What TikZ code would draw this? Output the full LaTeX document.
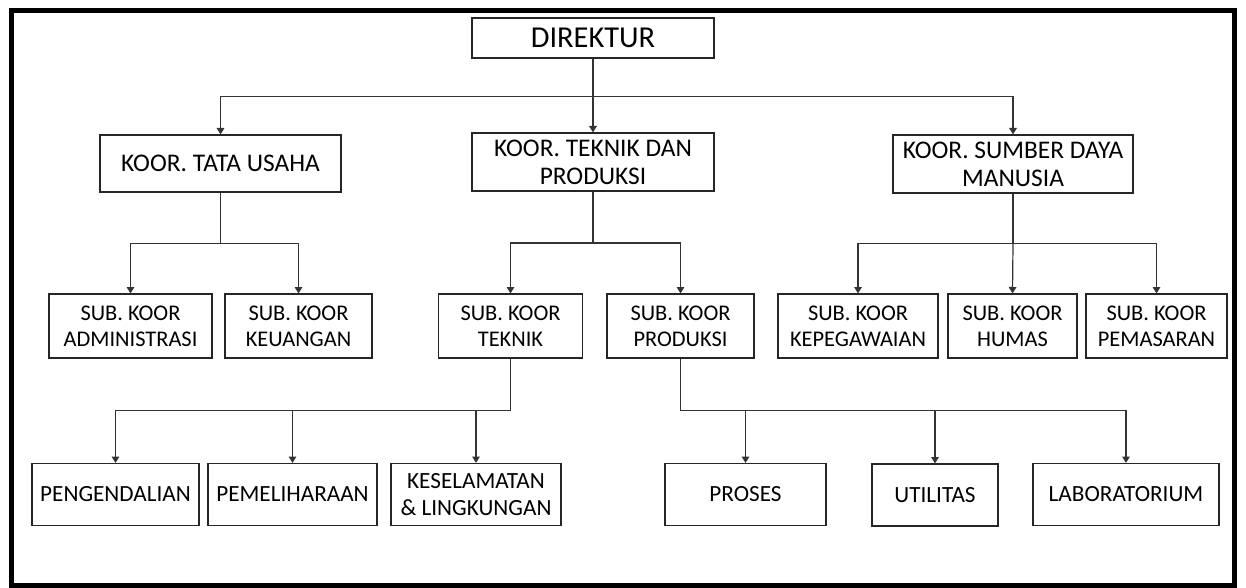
\documentclass[tikz,border=0pt]{standalone}
\usepackage{fontspec}
\setmainfont{Carlito}
\usetikzlibrary{arrows.meta}
\begin{document}
\begin{tikzpicture}[x=0.5pt,y=-0.5pt,
  box/.style={draw=black!85, line width=0.6pt, inner sep=0pt, align=center, minimum height=#1},
  box/.default=29pt,
  arr/.style={draw=black!80, line width=0.6pt, -{Triangle[width=3.8pt,length=3.2pt]}},
  ln/.style={draw=black!80, line width=0.6pt},
  fA/.style={font=\fontsize{15.2}{18}\selectfont},
  fB/.style={font=\fontsize{12.7}{14}\selectfont},
  fC/.style={font=\fontsize{11.2}{13}\selectfont},
  fD/.style={font=\fontsize{11.6}{13.2}\selectfont}]
\useasboundingbox (0,0) rectangle (1246,588);
\draw[line width=2.6pt] (11.5,10.5) rectangle (1234.5,585.5);
% level 0
\node[box=20pt, minimum width=121pt, fA] (dir) at (593,38) {DIREKTUR};
% level 1
\node[box=28.5pt, minimum width=120.5pt, fB] (tu) at (220.5,163.5) {KOOR. TATA USAHA};
\node[box=29pt, minimum width=121pt, fB] (tp) at (593,162) {KOOR. TEKNIK DAN\\PRODUKSI};
\node[box=29pt, minimum width=120pt, fB] (sdm) at (1013,164) {KOOR. SUMBER DAYA\\MANUSIA};
% level 2
\node[box=32pt, minimum width=81.5pt, fC] (adm) at (130.5,326) {SUB. KOOR\\ADMINISTRASI};
\node[box=32pt, minimum width=73.5pt, fC] (keu) at (298.5,326) {SUB. KOOR\\KEUANGAN};
\node[box=32pt, minimum width=72pt, fC] (tek) at (510.5,326) {SUB. KOOR\\TEKNIK};
\node[box=32pt, minimum width=73.5pt, fC] (prod) at (680.5,326) {SUB. KOOR\\PRODUKSI};
\node[box=32pt, minimum width=80pt, fC] (kep) at (858,326) {SUB. KOOR\\KEPEGAWAIAN};
\node[box=32pt, minimum width=64.5pt, fC] (hum) at (1012.5,326) {SUB. KOOR\\HUMAS};
\node[box=32pt, minimum width=70.5pt, fC] (pem) at (1156.5,326) {SUB. KOOR\\PEMASARAN};
% level 3
\node[box=31pt, minimum width=83.5pt, fD] (peng) at (115.5,494.5) {PENGENDALIAN};
\node[box=31pt, minimum width=84.5pt, fD] (peml) at (292.5,494.5) {PEMELIHARAAN};
\node[box=31pt, minimum width=85pt, fD] (kes) at (476,494.5) {KESELAMATAN\\\& LINGKUNGAN};
\node[box=31pt, minimum width=80.5pt, fD] (pros) at (745.5,494.5) {PROSES};
\node[box=31pt, minimum width=63pt, fD] (util) at (935,495) {UTILITAS};
\node[box=31pt, minimum width=93pt, fD] (lab) at (1126,494.5) {LABORATORIUM};
% bus coordinates
\coordinate (b0) at (593,96.7);
\coordinate (b1) at (220.5,243.5);
\coordinate (b2) at (593,243);
\coordinate (b3) at (1013,243.5);
\coordinate (b4) at (510.5,410.7);
\coordinate (b5) at (680.5,410.7);
% connectors
\draw[arr] (dir.south) -- (tp.north);
\draw[arr] (b0) -| (tu.north);
\draw[arr] (b0) -| (sdm.north);
\draw[ln] (tu.south) -- (b1);
\draw[arr] (b1) -| (adm.north);
\draw[arr] (b1) -| (keu.north);
\draw[ln] (tp.south) -- (b2);
\draw[arr] (b2) -| (tek.north);
\draw[arr] (b2) -| (prod.north);
\draw[ln] (sdm.south) -- (b3);
\draw[arr] (b3) -| (kep.north);
\draw[arr] (b3) -- (hum.north);
\draw[arr] (b3) -| (pem.north);
\draw[ln] (tek.south) -- (b4);
\draw[arr] (b4) -| (peng.north);
\draw[arr] (b4) -| (peml.north);
\draw[arr] (b4) -| (kes.north);
\draw[ln] (prod.south) -- (b5);
\draw[arr] (b5) -| (pros.north);
\draw[arr] (b5) -| (util.north);
\draw[arr] (b5) -| (lab.north);
\end{tikzpicture}
\end{document}
